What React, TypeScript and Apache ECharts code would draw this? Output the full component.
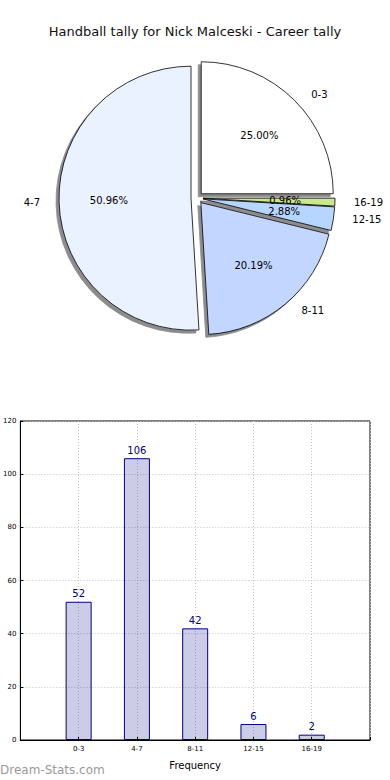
import React, { useEffect, useRef } from "react";
import * as echarts from "echarts";

const titleText = "Handball tally for Nick Malceski - Career tally";
const categories = ["0-3", "4-7", "8-11", "12-15", "16-19"];
const counts = [52, 106, 42, 6, 2];
const pieOrder = ["0-3", "16-19", "12-15", "8-11", "4-7"];
const pieColors: Record<string, string> = {
  "0-3": "#ffffff",
  "4-7": "#eaf1ff",
  "8-11": "#c2d6ff",
  "12-15": "#b7d6ff",
  "16-19": "#c9e88c",
};
const yTicks = [0, 20, 40, 60, 80, 100, 120];
const xAxisName = "Frequency";
const watermark = "Dream-Stats.com";

const FONT = "DejaVu Sans";

export default function App() {
  const ref = useRef<HTMLDivElement>(null);
  useEffect(() => {
    if (!ref.current) return;
    const chart = echarts.init(ref.current, undefined, { renderer: "svg" });
    const total = counts.reduce((a, b) => a + b, 0);
    const pieData = pieOrder.map((name) => ({
      name,
      value: counts[categories.indexOf(name)],
      selected: true,
      itemStyle: { color: pieColors[name] },
    }));
    const pctLabel = (p: any) => ((p.value / total) * 100).toFixed(2) + "%";
    const labelData = (only: string | null) =>
      pieOrder.map((name) => ({
        name,
        value: counts[categories.indexOf(name)],
        selected: true,
        label: { show: only === null ? name !== "16-19" : name === only },
      }));
    const R = 132;
    const center = [197, 198];
    const shadow = {
      shadowColor: "rgba(0,0,0,0.45)",
      shadowBlur: 0,
      shadowOffsetX: -3,
      shadowOffsetY: 3,
    };
    const overlay = (only: string | null) => ({
      type: "pie",
      center: center,
      radius: [0, R * 1.2],
      startAngle: 90,
      clockwise: true,
      selectedMode: "multiple",
      selectedOffset: 6,
      avoidLabelOverlap: false,
      silent: true,
      emphasis: { disabled: true },
      itemStyle: { color: "transparent", borderWidth: 0 },
      select: { itemStyle: { color: "transparent", borderWidth: 0 } },
      labelLayout: { hideOverlap: false },
      label: {
        show: true,
        position: "inside",
        fontFamily: FONT,
        fontSize: 10,
        color: "#000",
        formatter: pctLabel,
      },
      labelLine: { show: false },
      data: labelData(only),
      z: 3,
    });
    chart.setOption({
      animation: false,
      textStyle: { fontFamily: FONT },
      title: {
        text: titleText,
        left: "center",
        top: 20,
        textStyle: { fontFamily: FONT, fontSize: 13, fontWeight: "normal", color: "#111" },
      },
      graphic: [
        {
          type: "text",
          left: 0,
          top: 764,
          style: { text: watermark, fill: "#9a9a9a", font: `12px "${FONT}"` },
        },
      ],
      grid: {
        left: 19,
        right: 20,
        top: 421,
        bottom: 40,
        show: true,
        borderColor: "#000",
        borderWidth: 1,
        backgroundColor: "transparent",
      },
      xAxis: {
        type: "value",
        min: -1,
        max: 5,
        interval: 1,
        name: xAxisName,
        nameLocation: "middle",
        nameGap: 20,
        nameTextStyle: { fontFamily: FONT, fontSize: 10, color: "#000" },
        axisLine: { show: true, onZero: false, lineStyle: { color: "#000" } },
        axisTick: { show: true, inside: true, length: 3, lineStyle: { color: "#000" } },
        axisLabel: {
          fontFamily: FONT,
          fontSize: 7,
          color: "#000",
          margin: 5,
          showMinLabel: true,
          showMaxLabel: true,
          formatter: (v: number) => (v >= 0 && v < categories.length ? categories[v] : ""),
        },
        splitLine: { show: true, lineStyle: { color: "#c4c4c4", type: [1, 2], width: 1 } },
      },
      yAxis: {
        type: "value",
        min: 0,
        max: 120,
        interval: 20,
        axisLine: { show: true, onZero: false, lineStyle: { color: "#000" } },
        axisTick: { show: true, inside: true, length: 3, lineStyle: { color: "#000" } },
        axisLabel: {
          fontFamily: FONT,
          fontSize: 7,
          color: "#000",
          margin: 4,
          formatter: (v: number) => (yTicks.includes(v) ? String(v) : ""),
        },
        splitLine: { show: true, lineStyle: { color: "#c4c4c4", type: [1, 2], width: 1 } },
      },
      series: [
        {
          type: "pie",
          center: center,
          radius: [0, R],
          startAngle: 90,
          clockwise: true,
          selectedMode: "multiple",
          selectedOffset: 6,
          avoidLabelOverlap: false,
          emphasis: { disabled: true },
          itemStyle: { borderColor: "#000", borderWidth: 0.8, ...shadow },
          select: { itemStyle: { borderColor: "#000", borderWidth: 0.8, ...shadow } },
          labelLayout: { hideOverlap: false },
          label: {
            show: true,
            position: "outside",
            fontFamily: FONT,
            fontSize: 10,
            color: "#000",
            distanceToLabelLine: 11,
            formatter: "{b}",
          },
          labelLine: { show: false, length: 8, length2: 0 },
          data: pieData,
          z: 2,
        },
        overlay(null),
        overlay("16-19"),
        {
          type: "bar",
          barWidth: 26,
          data: counts.map((c, i) => [i, c]),
          itemStyle: {
            color: "rgba(0,0,128,0.2)",
            borderColor: "#000080",
            borderWidth: 1,
          },
          label: {
            show: true,
            position: "top",
            distance: 3,
            fontFamily: FONT,
            fontSize: 10,
            color: "#000080",
          },
          emphasis: { disabled: true },
        },
      ],
    });
    return () => chart.dispose();
  }, []);
  return (
    <div
      ref={ref}
      style={{ position: "fixed", left: 0, top: 0, width: 390, height: 780, background: "#fff" }}
    />
  );
}
